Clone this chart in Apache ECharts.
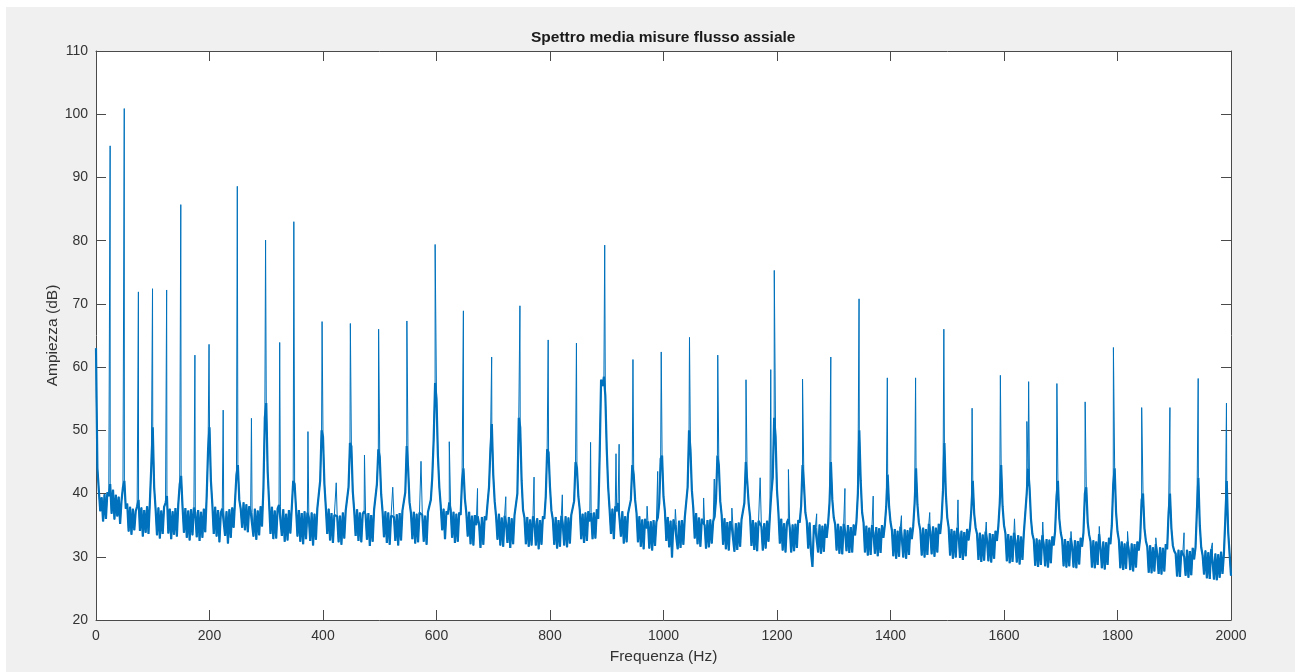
<!DOCTYPE html>
<html>
<head>
<meta charset="utf-8">
<title>Spettro media misure flusso assiale</title>
<script src="https://cdn.jsdelivr.net/npm/echarts@6/dist/echarts.min.js"></script>
<style>
  html, body { margin: 0; padding: 0; background: #ffffff; }
  #chart { position: absolute; left: 6px; top: 7px; width: 1289px; height: 665px; background: #f0f0f0; }
</style>
</head>
<body>
<div id="chart"></div>
<script>
// Averaged axial-flux spectrum: broadband floor sampled every 2.5 Hz
const floorStepHz = 2.5;
const floorDb = [
  // 0 - 47.5 Hz
  63.0, 44.0, 40.5, 37.2, 39.4, 35.6, 39.9, 36.0, 40.2, 39.6, 41.5, 36.8, 40.6, 35.9, 39.8, 36.4, 39.5, 35.2, 38.9, 41.0,
  // 50 - 97.5 Hz
  42.0, 37.6, 38.4, 34.0, 37.9, 33.5, 37.6, 34.2, 37.2, 38.0, 39.0, 34.1, 37.8, 33.2, 37.4, 33.8, 38.0, 33.6, 38.8, 44.5,
  // 100 - 147.5 Hz
  50.5, 41.0, 37.6, 33.4, 37.8, 32.9, 37.3, 33.6, 37.9, 38.5, 39.6, 33.7, 37.6, 32.8, 37.2, 33.5, 37.7, 33.2, 38.3, 41.5,
  // 150 - 197.5 Hz
  42.8, 37.9, 33.8, 37.7, 33.0, 37.3, 32.6, 37.5, 33.4, 37.8, 37.0, 33.1, 37.4, 32.5, 37.1, 33.0, 37.6, 33.9, 39.5, 47.0,
  // 200 - 247.5 Hz
  50.5, 42.0, 38.3, 33.6, 37.9, 33.2, 37.4, 32.3, 37.0, 37.6, 37.4, 33.3, 37.2, 32.1, 37.5, 33.0, 37.8, 34.6, 38.8, 43.0,
  // 250 - 297.5 Hz
  44.5, 39.0, 37.6, 34.6, 38.6, 34.2, 38.3, 33.9, 38.0, 37.2, 37.0, 33.2, 37.6, 32.7, 37.3, 33.4, 38.0, 34.8, 40.8, 52.0,
  // 300 - 347.5 Hz
  54.3, 43.5, 38.6, 33.6, 37.9, 32.8, 37.3, 32.9, 37.6, 38.2, 37.9, 33.3, 37.5, 32.4, 36.8, 32.6, 37.4, 33.7, 37.8, 42.0,
  // 350 - 397.5 Hz
  41.5, 37.6, 33.2, 37.4, 32.4, 36.9, 32.0, 37.2, 32.8, 37.0, 36.2, 32.5, 37.0, 31.8, 36.8, 32.7, 37.6, 37.8, 42.0, 50.0,
  // 400 - 447.5 Hz
  49.0, 41.5, 37.8, 33.6, 37.6, 32.6, 36.9, 32.2, 36.6, 36.8, 36.4, 32.3, 36.5, 31.9, 37.0, 32.9, 37.3, 37.6, 41.0, 48.0,
  // 450 - 497.5 Hz
  47.5, 40.3, 37.3, 33.3, 37.5, 32.5, 37.0, 32.3, 36.8, 37.2, 36.7, 32.7, 36.9, 31.7, 36.6, 32.4, 37.4, 37.7, 41.5, 47.0,
  // 500 - 547.5 Hz
  45.8, 39.9, 37.1, 33.1, 37.2, 32.2, 37.0, 31.9, 36.5, 36.8, 36.3, 32.5, 36.7, 31.8, 36.9, 32.6, 37.3, 37.2, 40.2, 47.5,
  // 550 - 597.5 Hz
  44.0, 38.6, 36.9, 32.8, 37.1, 32.1, 36.8, 32.3, 37.0, 37.3, 36.6, 32.4, 36.5, 31.9, 37.1, 36.9, 39.0, 42.5, 48.5, 57.5,
  // 600 - 647.5 Hz
  55.0, 46.0, 41.0, 38.0, 34.2, 37.6, 32.8, 37.2, 36.7, 38.6, 37.4, 33.0, 37.1, 32.2, 36.8, 32.4, 37.0, 36.6, 42.0, 44.0,
  // 650 - 697.5 Hz
  39.2, 37.0, 33.2, 37.1, 32.0, 36.5, 31.8, 36.6, 35.0, 36.4, 35.2, 31.4, 36.3, 31.9, 36.4, 35.8, 38.5, 41.0, 47.0, 51.0,
  // 700 - 747.5 Hz
  43.0, 38.8, 36.4, 32.7, 36.8, 31.8, 36.2, 31.6, 36.5, 35.4, 32.2, 36.3, 31.4, 36.1, 32.0, 36.6, 36.7, 40.0, 52.0, 50.5,
  // 750 - 797.5 Hz
  42.0, 37.4, 36.2, 32.0, 36.3, 31.6, 35.9, 31.8, 36.4, 35.6, 31.8, 36.1, 31.2, 35.8, 31.9, 36.4, 36.0, 39.5, 47.0, 46.5,
  // 800 - 847.5 Hz
  41.0, 37.3, 35.9, 31.9, 36.3, 31.3, 35.8, 31.6, 36.5, 35.2, 31.8, 36.4, 31.5, 36.2, 32.1, 36.6, 36.4, 38.8, 45.0, 44.0,
  // 850 - 897.5 Hz
  39.5, 37.4, 32.8, 36.8, 32.2, 37.0, 32.5, 37.2, 35.6, 36.9, 32.8, 37.0, 32.9, 37.5, 36.0, 46.0, 58.0, 57.0, 58.5, 55.5,
  // 900 - 947.5 Hz
  47.0, 41.0, 37.5, 33.6, 37.6, 32.8, 38.0, 37.2, 38.5, 36.0, 33.2, 37.2, 32.1, 36.4, 32.3, 36.8, 36.6, 39.0, 44.5, 43.0,
  // 950 - 997.5 Hz
  39.0, 36.9, 32.3, 36.4, 31.6, 35.9, 31.2, 36.0, 34.5, 35.6, 31.3, 35.6, 31.0, 35.8, 31.7, 35.5, 36.2, 38.5, 45.5, 46.0,
  // 1000 - 1047.5 Hz
  39.5, 37.2, 32.5, 36.3, 31.5, 35.7, 29.9, 35.9, 35.0, 35.1, 31.2, 35.7, 31.4, 35.8, 31.9, 36.2, 36.5, 41.0, 50.0, 47.0,
  // 1050 - 1097.5 Hz
  40.5, 37.7, 32.9, 36.9, 32.0, 36.2, 31.6, 36.0, 35.4, 35.0, 31.3, 35.8, 31.5, 35.9, 32.1, 35.6, 36.3, 39.0, 46.0, 44.5,
  // 1100 - 1147.5 Hz
  38.8, 36.6, 31.9, 36.1, 31.2, 35.5, 31.0, 35.6, 35.0, 34.7, 30.8, 35.3, 31.1, 35.4, 31.6, 35.9, 35.8, 38.5, 45.0, 42.0,
  // 1150 - 1197.5 Hz
  38.5, 36.4, 31.7, 35.8, 31.1, 35.4, 30.9, 35.7, 35.5, 34.8, 31.0, 35.3, 31.3, 35.7, 32.4, 36.5, 40.0, 42.5, 52.0, 49.0,
  // 1200 - 1247.5 Hz
  40.5, 37.0, 32.1, 36.0, 31.0, 35.3, 30.7, 35.4, 36.0, 34.6, 30.7, 35.1, 30.9, 35.2, 31.4, 35.8, 35.4, 38.0, 44.5, 41.5,
  // 1250 - 1297.5 Hz
  37.0, 35.6, 31.3, 35.4, 30.6, 28.4, 35.0, 34.5, 34.6, 30.7, 35.1, 30.5, 34.9, 30.8, 35.2, 33.0, 35.2, 38.5, 45.0, 39.0,
  // 1300 - 1347.5 Hz
  36.2, 35.1, 31.0, 35.2, 30.5, 34.8, 30.4, 35.2, 34.0, 30.9, 35.0, 30.6, 34.7, 30.7, 35.1, 33.4, 35.6, 40.0, 50.0, 42.0,
  // 1350 - 1397.5 Hz
  37.0, 35.4, 30.7, 34.9, 30.2, 34.6, 30.3, 35.0, 33.8, 30.5, 34.7, 30.1, 34.5, 30.6, 35.0, 33.0, 35.0, 38.0, 43.0, 38.0,
  // 1400 - 1447.5 Hz
  35.5, 34.2, 30.1, 34.4, 29.7, 34.1, 30.0, 34.8, 33.0, 29.9, 34.3, 29.7, 34.2, 30.3, 34.6, 32.8, 34.8, 38.5, 44.0, 38.2,
  // 1450 - 1497.5 Hz
  35.4, 34.2, 30.2, 34.6, 29.9, 34.4, 30.3, 35.2, 34.0, 30.4, 34.8, 30.0, 34.6, 30.7, 35.2, 33.6, 36.0, 40.5, 48.0, 40.0,
  // 1500 - 1547.5 Hz
  36.2, 34.6, 30.2, 34.4, 29.7, 34.1, 29.9, 34.6, 33.5, 29.8, 34.1, 29.5, 33.9, 30.1, 34.4, 32.6, 34.4, 37.5, 42.0, 36.8,
  // 1550 - 1597.5 Hz
  34.6, 33.6, 29.5, 33.8, 29.2, 33.5, 29.4, 34.0, 32.7, 29.3, 33.7, 29.1, 33.6, 29.7, 34.1, 32.5, 34.8, 38.5, 44.5, 38.0,
  // 1600 - 1647.5 Hz
  35.0, 33.7, 29.3, 33.6, 29.0, 33.3, 29.2, 33.8, 32.6, 29.1, 33.4, 28.8, 33.2, 29.5, 33.8, 33.5, 40.0, 44.0, 41.0, 36.0,
  // 1650 - 1697.5 Hz
  33.6, 32.7, 28.6, 32.9, 28.4, 32.7, 28.7, 33.4, 32.0, 28.5, 32.8, 28.3, 32.7, 29.0, 33.2, 31.8, 34.0, 39.5, 42.0, 36.0,
  // 1700 - 1747.5 Hz
  33.8, 32.7, 28.5, 32.8, 28.3, 32.5, 28.5, 33.0, 31.6, 28.3, 32.6, 28.2, 32.5, 28.8, 33.0, 31.6, 33.8, 40.0, 41.0, 35.5,
  // 1750 - 1797.5 Hz
  33.5, 32.4, 28.3, 32.6, 28.2, 32.4, 28.7, 33.6, 31.5, 28.2, 32.4, 28.0, 32.3, 28.7, 33.0, 32.0, 35.0, 41.5, 44.0, 37.0,
  // 1800 - 1847.5 Hz
  34.0, 32.6, 28.2, 32.4, 27.9, 32.1, 28.1, 32.4, 31.0, 27.9, 32.1, 27.7, 32.0, 28.3, 32.4, 31.0, 33.0, 39.0, 40.0, 34.5,
  // 1850 - 1897.5 Hz
  32.5, 31.6, 27.5, 31.8, 27.4, 31.5, 27.7, 32.0, 30.4, 27.3, 31.5, 27.2, 31.4, 27.7, 32.0, 31.2, 37.0, 40.0, 34.5, 31.8,
  // 1900 - 1947.5 Hz
  30.9, 30.5, 26.9, 31.1, 26.8, 31.0, 30.5, 30.0, 27.0, 31.1, 26.7, 30.9, 27.1, 31.4, 29.6, 31.5, 37.5, 42.5, 35.0, 31.5,
  // 1950 - 1997.5 Hz
  30.2, 27.2, 31.0, 26.6, 30.7, 26.5, 31.2, 29.4, 26.4, 30.5, 26.3, 30.4, 26.7, 30.8, 27.3, 30.5, 36.0, 42.0, 34.0, 30.5,
  // 2000 Hz
  27.0
];

// Narrow spectral lines (supply harmonics and side lines) that sit between floor samples
const spikeHz = [
  0.6, 24.9, 49.8, 74.7, 99.6, 124.5, 149.4, 174.3, 199.2, 224.1,
  249.0, 273.9, 298.8, 323.7, 348.6, 373.5, 398.4, 423.3, 448.2, 473.1,
  498.0, 522.9, 547.8, 572.7, 597.6, 622.5, 647.4, 672.3, 697.2, 722.1,
  747.0, 771.9, 796.8, 821.7, 846.6, 871.5, 896.4, 916.3, 921.8, 946.2,
  971.1, 989.8, 996.0, 1020.9, 1045.8, 1070.7, 1089.5, 1095.6, 1120.5, 1145.4,
  1170.3, 1189.0, 1195.2, 1220.1, 1245.0, 1269.9, 1294.8, 1319.7, 1344.6, 1369.5,
  1394.4, 1419.3, 1444.2, 1469.1, 1494.0, 1518.9, 1543.8, 1568.7, 1593.6, 1618.5,
  1640.3, 1643.4, 1668.3, 1693.2, 1718.1, 1743.0, 1767.9, 1792.8, 1817.7, 1842.6,
  1867.5, 1892.4, 1917.3, 1942.2, 1967.1, 1992.0
];
const spikeDb = [
  55.3, 95.0, 100.9, 71.9, 72.4, 72.2, 85.7, 61.9, 63.6, 53.2,
  88.6, 51.9, 80.1, 63.9, 83.0, 49.8, 67.2, 41.7, 66.9, 46.1,
  66.0, 41.0, 67.3, 45.1, 79.4, 48.2, 68.9, 40.8, 61.6, 39.5,
  69.7, 42.6, 64.3, 39.8, 63.8, 48.1, 79.3, 46.3, 47.8, 61.2,
  38.0, 43.5, 62.4, 37.5, 64.7, 39.3, 42.3, 61.9, 37.7, 58.0,
  42.5, 59.6, 75.3, 43.8, 58.1, 36.8, 61.6, 40.8, 70.8, 39.6,
  58.3, 36.5, 58.3, 37.0, 66.0, 39.0, 53.5, 35.5, 58.7, 36.0,
  51.4, 57.7, 35.5, 57.4, 34.0, 54.5, 34.8, 63.1, 34.0, 53.6,
  33.0, 53.6, 33.8, 58.2, 32.2, 54.3
];

// Axis ranges and tick steps
const freqRange = [0, 2000];
const freqTickStep = 200;
const dbRange = [20, 110];
const dbTickStep = 10;

// Floor samples as [Hz, dB] pairs
const floorPoints = floorDb.map((v, i) => [i * floorStepHz, v]);
// Complete trace: floor samples and spectral lines in frequency order
const spectrum = floorPoints
  .concat(spikeHz.map((f, i) => [f, spikeDb[i]]))
  .sort((a, b) => a[0] - b[0]);

const traceColor = '#0072BD';
const axisColor = '#4a4a4a';
const textColor = '#333333';
const fontFamily = '"Liberation Sans", Arial, Helvetica, sans-serif';

function xAxisDef(pos, withLabels) {
  return {
    type: 'value', position: pos,
    min: freqRange[0], max: freqRange[1], interval: freqTickStep,
    axisLine: { show: true, onZero: false, lineStyle: { color: axisColor, width: 1 } },
    axisTick: { show: true, inside: true, length: 10, lineStyle: { color: axisColor, width: 1 } },
    axisLabel: {
      show: withLabels, color: textColor, fontSize: 14, fontFamily: fontFamily, margin: 9,
      formatter: (v) => String(v)
    },
    splitLine: { show: false },
    name: withLabels ? 'Frequenza (Hz)' : '',
    nameLocation: 'middle', nameGap: 29, nameMoveOverlap: false,
    nameTextStyle: { color: textColor, fontSize: 15.5, fontFamily: fontFamily }
  };
}
function yAxisDef(pos, withLabels) {
  return {
    type: 'value', position: pos,
    min: dbRange[0], max: dbRange[1], interval: dbTickStep,
    axisLine: { show: true, onZero: false, lineStyle: { color: axisColor, width: 1 } },
    axisTick: { show: true, inside: true, length: 10, lineStyle: { color: axisColor, width: 1 } },
    axisLabel: {
      show: withLabels, color: textColor, fontSize: 14, fontFamily: fontFamily, margin: 8,
      formatter: (v) => String(v)
    },
    splitLine: { show: false },
    name: withLabels ? 'Ampiezza (dB)' : '',
    nameLocation: 'middle', nameGap: 35, nameMoveOverlap: false,
    nameTextStyle: { color: textColor, fontSize: 15.5, fontFamily: fontFamily }
  };
}

const chart = echarts.init(document.getElementById('chart'), null, { renderer: 'canvas' });
chart.setOption({
  animation: false,
  backgroundColor: '#f0f0f0',
  title: {
    text: 'Spettro media misure flusso assiale',
    left: 520, top: 18,
    textStyle: { color: '#1a1a1a', fontSize: 15.5, fontWeight: 'bold', fontFamily: fontFamily }
  },
  grid: {
    left: 90, top: 44, width: 1135, height: 569,
    show: true, backgroundColor: '#ffffff', borderWidth: 0
  },
  xAxis: [xAxisDef('bottom', true), xAxisDef('top', false)],
  yAxis: [yAxisDef('left', true), yAxisDef('right', false)],
  series: [
    {
      // broadband floor drawn a little heavier so the dense noise reads as a band
      type: 'line',
      data: floorPoints,
      showSymbol: false,
      sampling: false,
      lineStyle: { color: traceColor, width: 2.2 },
      emphasis: { disabled: true },
      silent: true
    },
    {
      type: 'line',
      data: spectrum,
      showSymbol: false,
      sampling: false,
      lineStyle: { color: traceColor, width: 1 },
      emphasis: { disabled: true }
    }
  ]
});
</script>
</body>
</html>
